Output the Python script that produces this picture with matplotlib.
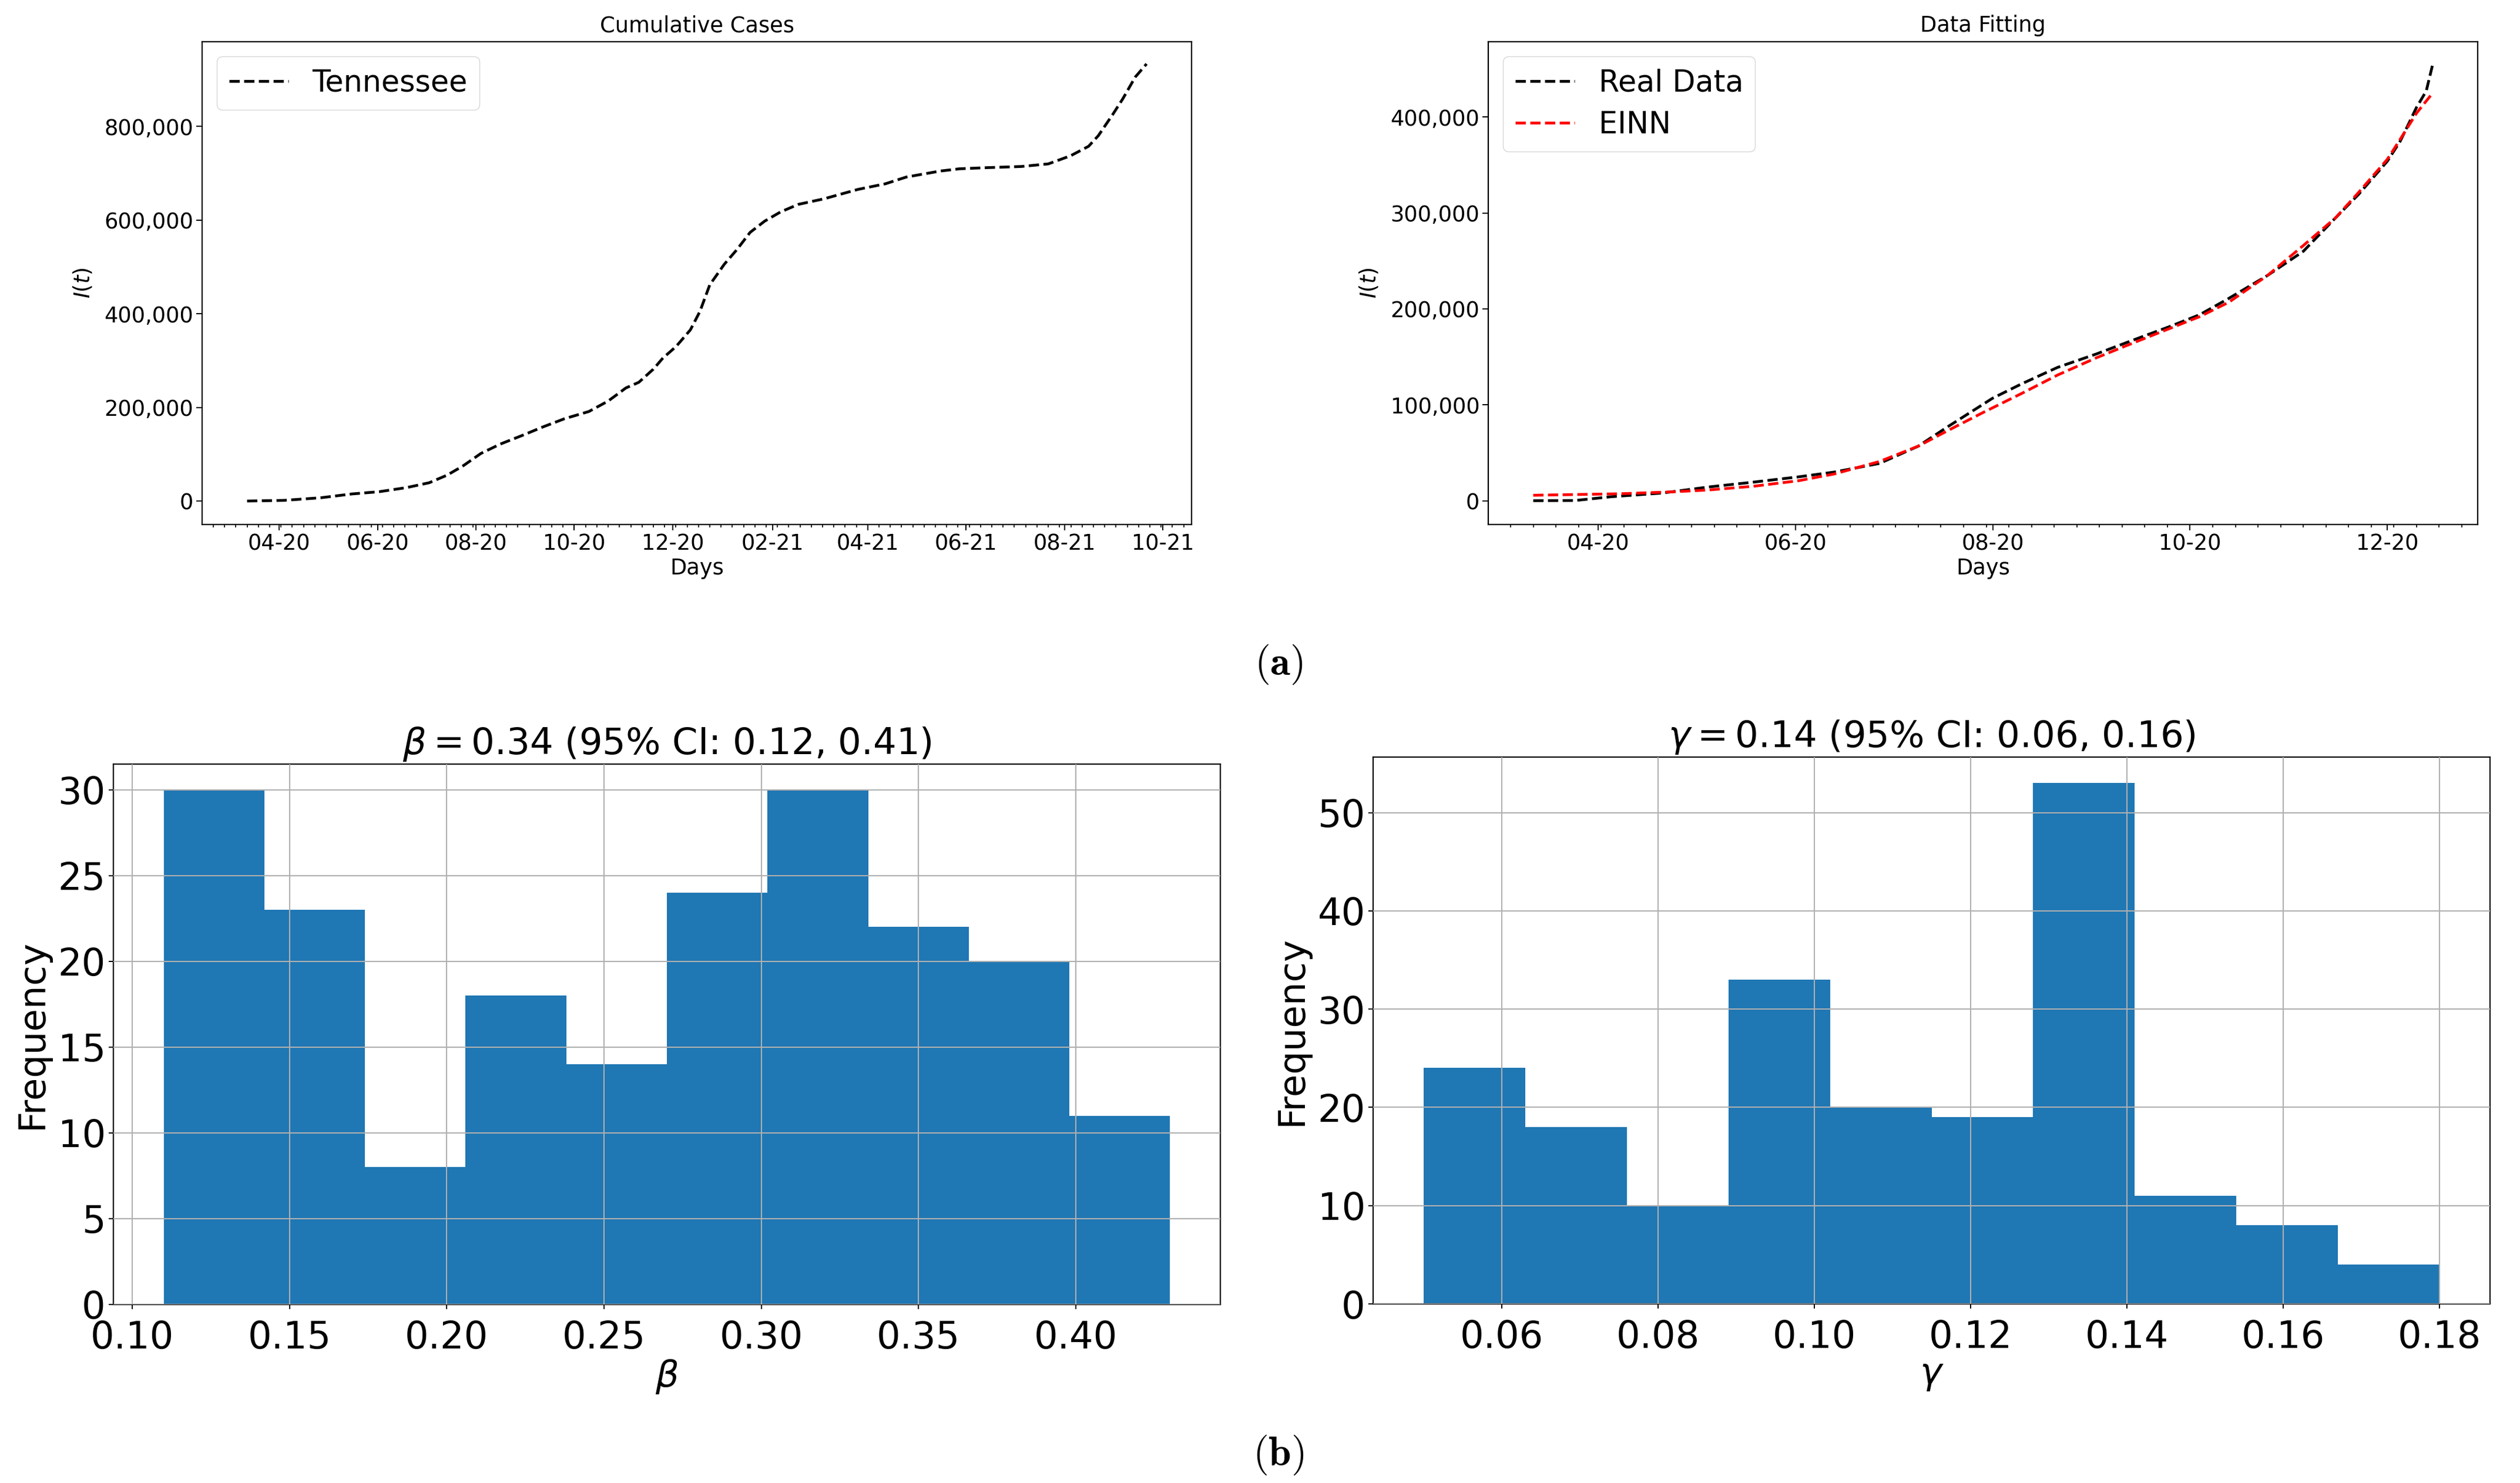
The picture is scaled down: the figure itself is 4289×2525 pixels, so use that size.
import matplotlib
matplotlib.use('Agg')
import matplotlib.pyplot as plt
import matplotlib.dates as mdates
from matplotlib.ticker import StrMethodFormatter
import numpy as np
import pandas as pd

# cumulative cases, Tennessee
tn_dates = ['2020-03-12', '2020-04-04', '2020-04-27', '2020-05-16', '2020-06-02', '2020-06-19',
            '2020-07-03', '2020-07-14', '2020-07-24', '2020-08-04', '2020-08-16', '2020-08-29',
            '2020-09-11', '2020-09-25', '2020-10-10', '2020-10-22', '2020-11-02', '2020-11-10',
            '2020-11-19', '2020-11-25', '2020-12-03', '2020-12-12', '2020-12-18', '2020-12-24',
            '2021-01-02', '2021-01-10', '2021-01-18', '2021-01-27', '2021-02-06', '2021-02-17',
            '2021-03-05', '2021-03-26', '2021-04-12', '2021-04-25', '2021-05-16', '2021-05-28',
            '2021-06-14', '2021-07-05', '2021-07-22', '2021-08-05', '2021-08-16', '2021-08-22',
            '2021-08-31', '2021-09-06', '2021-09-14', '2021-09-21']
tn_cases = [100, 1500, 7200, 15200, 20000, 28800,
            39200, 55200, 75200, 101600, 121600, 139200,
            157600, 176000, 191200, 213600, 241600, 253600,
            281600, 305600, 329600, 365600, 405600, 461600,
            505600, 537600, 573600, 597600, 617600, 633600,
            645600, 665600, 677600, 692000, 704800, 709600,
            712000, 714400, 720000, 737600, 757600, 780000,
            825600, 857600, 905600, 933600]

# data fitting
real_dates = ['2020-03-12', '2020-03-25', '2020-04-05', '2020-04-21', '2020-05-05', '2020-05-19',
              '2020-06-02', '2020-06-13', '2020-06-27', '2020-07-09', '2020-07-18', '2020-07-25',
              '2020-08-01', '2020-08-10', '2020-08-21', '2020-09-02', '2020-09-13', '2020-09-25',
              '2020-10-04', '2020-10-13', '2020-10-25', '2020-11-05', '2020-11-15', '2020-11-22',
              '2020-12-01', '2020-12-05', '2020-12-10', '2020-12-13', '2020-12-15']
real_cases = [200, 400, 4300, 8200, 14400, 19500,
              25000, 30000, 39000, 57000, 77000, 92000,
              107000, 122000, 139000, 153000, 167000, 182000,
              194000, 211000, 235000, 260000, 295000, 319000,
              354000, 375000, 410000, 427000, 455000]
einn_dates = ['2020-03-12', '2020-03-25', '2020-04-08', '2020-04-24', '2020-05-05', '2020-05-19',
              '2020-06-02', '2020-06-13', '2020-06-27', '2020-07-09', '2020-07-18', '2020-07-29',
              '2020-08-10', '2020-08-21', '2020-09-02', '2020-09-13', '2020-09-25', '2020-10-04',
              '2020-10-13', '2020-10-25', '2020-11-05', '2020-11-15', '2020-11-22', '2020-12-01',
              '2020-12-05', '2020-12-10', '2020-12-15']
einn_cases = [5850, 6600, 7400, 9400, 11300, 15200,
              21000, 28000, 41000, 57000, 73000, 92000,
              112000, 131000, 149000, 164000, 180000, 192000,
              207000, 235000, 266000, 295000, 321000, 356000,
              377000, 404000, 425000]

# histograms
beta_range = (0.11, 0.43)
beta_counts = [30, 23, 8, 18, 14, 24, 30, 22, 20, 11]
beta_xticks = [0.10, 0.15, 0.20, 0.25, 0.30, 0.35, 0.40]
beta_yticks = [0, 5, 10, 15, 20, 25, 30]
gamma_range = (0.05, 0.18)
gamma_counts = [24, 18, 10, 33, 20, 19, 53, 11, 8, 4]
gamma_xticks = [0.06, 0.08, 0.10, 0.12, 0.14, 0.16, 0.18]
gamma_yticks = [0, 10, 20, 30, 40, 50]

W, H = 4289, 2525
fig = plt.figure(figsize=(W / 100, H / 100), dpi=100)


def add_axes_px(left, top, right, bottom):
    return fig.add_axes([left / W, 1 - bottom / H, (right - left) / W, (bottom - top) / H])


def style_spines(ax):
    for spine in ax.spines.values():
        spine.set_linewidth(1.6)


def style_dates(ax):
    ax.xaxis.set_major_locator(mdates.MonthLocator(interval=2))
    ax.xaxis.set_major_formatter(mdates.DateFormatter('%m-%y'))
    ax.xaxis.set_minor_locator(mdates.WeekdayLocator(byweekday=mdates.TH))
    ax.yaxis.set_major_formatter(StrMethodFormatter('{x:,.0f}'))
    ax.tick_params(which='major', labelsize=26.5, length=7, width=1.4)
    ax.tick_params(which='minor', length=3.5, width=1.2)
    ax.set_xlabel('Days', fontsize=26.5, labelpad=3)
    ax.set_ylabel('$I(t)$', fontsize=26.5, labelpad=12)
    style_spines(ax)


# top left
ax1 = add_axes_px(344, 71, 2028, 893)
ax1.plot(pd.to_datetime(tn_dates), tn_cases, 'k--', lw=3.4, label='Tennessee')
ax1.set_title('Cumulative Cases', fontsize=26.5, pad=12)
ax1.set_ylim(-50000, 981000)
ax1.legend(loc='upper left', fontsize=36.5, labelspacing=0.42)
style_dates(ax1)

# top right
ax2 = add_axes_px(2533, 71, 4217, 893)
ax2.plot(pd.to_datetime(real_dates), real_cases, 'k--', lw=3.4, label='Real Data')
ax2.plot(pd.to_datetime(einn_dates), einn_cases, 'r--', lw=3.4, label='EINN')
ax2.set_title('Data Fitting', fontsize=26.5, pad=12)
ax2.set_ylim(-24600, 478400)
ax2.legend(loc='upper left', fontsize=36.5, labelspacing=0.42)
style_dates(ax2)


def draw_hist(ax, value_range, counts, xticks, yticks, title, xlabel):
    edges = np.linspace(value_range[0], value_range[1], len(counts) + 1)
    ax.hist(edges[:-1], bins=edges, weights=counts, color='#1f77b4')
    ax.grid(True, color='#b0b0b0', lw=1.5)
    ax.set_axisbelow(False)
    ax.set_xticks(xticks)
    ax.set_yticks(yticks)
    ax.xaxis.set_major_formatter(StrMethodFormatter('{x:.2f}'))
    ax.tick_params(labelsize=46, length=6, width=1.4)
    ax.tick_params(axis='x', pad=13)
    ax.set_title(title, fontsize=45, pad=12)
    ax.set_xlabel(xlabel, fontsize=45, labelpad=2)
    ax.set_ylabel('Frequency', fontsize=45, labelpad=10)
    style_spines(ax)


# bottom left
ax3 = add_axes_px(193, 1301, 2077, 2221)
draw_hist(ax3, beta_range, beta_counts, beta_xticks, beta_yticks,
          r'$\beta = 0.34$ (95% CI: 0.12, 0.41)', r'$\beta$')

# bottom right
ax4 = add_axes_px(2337, 1289, 4238, 2220)
draw_hist(ax4, gamma_range, gamma_counts, gamma_xticks, gamma_yticks,
          r'$\gamma = 0.14$ (95% CI: 0.06, 0.16)', r'$\gamma$')

# panel captions
fig.text(2176 / W, 1 - 1131 / H, r'$(\mathbf{a})$', fontsize=50, ha='center', va='center', math_fontfamily='cm')
fig.text(2176 / W, 1 - 2477 / H, r'$(\mathbf{b})$', fontsize=50, ha='center', va='center', math_fontfamily='cm')

fig.savefig('out.png', dpi=100)
